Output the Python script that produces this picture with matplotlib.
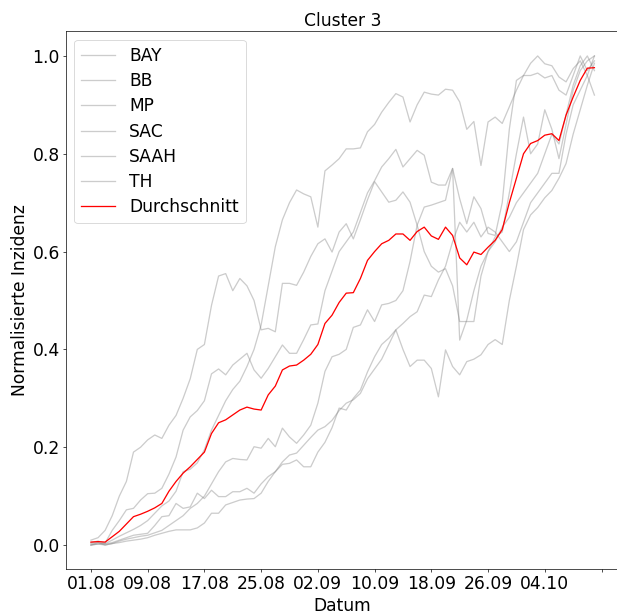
import matplotlib
matplotlib.use('Agg')
import matplotlib.pyplot as plt
import pandas as pd

# 72 daily values from 01.08 onward, each region min-max normalised
DATES = pd.date_range('2020-08-01', periods=72).strftime('%d.%m').tolist()

BAY = [0.01, 0.015, 0.03, 0.06, 0.10, 0.13, 0.19, 0.20, 0.215, 0.225,
       0.218, 0.245, 0.265, 0.30, 0.34, 0.40, 0.41, 0.49, 0.55, 0.555,
       0.52, 0.545, 0.53, 0.50, 0.44, 0.443, 0.436, 0.535, 0.535, 0.531,
       0.558, 0.59, 0.616, 0.626, 0.599, 0.64, 0.657, 0.626, 0.665, 0.706,
       0.743, 0.722, 0.701, 0.705, 0.722, 0.701, 0.654, 0.60, 0.57, 0.558,
       0.565, 0.53, 0.457, 0.457, 0.457, 0.55, 0.60, 0.63, 0.64, 0.72,
       0.80, 0.875, 0.80, 0.82, 0.89, 0.85, 0.79, 0.86, 0.93, 0.97,
       0.99, 1.0]
BB = [0.005, 0.008, 0.004, 0.03, 0.05, 0.072, 0.075, 0.092, 0.105, 0.106,
      0.116, 0.145, 0.18, 0.235, 0.262, 0.275, 0.295, 0.35, 0.36, 0.348,
      0.368, 0.38, 0.392, 0.358, 0.341, 0.361, 0.385, 0.409, 0.392, 0.392,
      0.42, 0.45, 0.452, 0.52, 0.56, 0.60, 0.62, 0.64, 0.68, 0.72,
      0.745, 0.773, 0.79, 0.809, 0.773, 0.79, 0.807, 0.797, 0.742, 0.736,
      0.736, 0.77, 0.708, 0.657, 0.712, 0.688, 0.637, 0.633, 0.70, 0.85,
      0.95, 0.96, 0.96, 0.965, 0.955, 0.96, 0.93, 0.92, 0.96, 1.0,
      0.97, 0.99]
MP = [0.0, 0.002, 0.003, 0.01, 0.018, 0.025, 0.032, 0.04, 0.05, 0.065,
      0.08, 0.09, 0.11, 0.15, 0.155, 0.168, 0.195, 0.235, 0.265, 0.295,
      0.318, 0.335, 0.365, 0.40, 0.45, 0.53, 0.61, 0.665, 0.70, 0.726,
      0.718, 0.712, 0.65, 0.765, 0.777, 0.79, 0.81, 0.81, 0.812, 0.845,
      0.86, 0.885, 0.905, 0.923, 0.916, 0.865, 0.90, 0.926, 0.922, 0.92,
      0.932, 0.93, 0.906, 0.85, 0.866, 0.776, 0.865, 0.875, 0.862, 0.896,
      0.93, 0.96, 0.985, 1.0, 0.984, 0.98, 0.957, 0.947, 0.974, 0.99,
      0.96, 0.92]
SAC = [0.0, 0.005, 0.0, 0.003, 0.008, 0.012, 0.015, 0.018, 0.02, 0.025,
       0.03, 0.04, 0.05, 0.06, 0.075, 0.085, 0.10, 0.125, 0.15, 0.17,
       0.177, 0.175, 0.174, 0.201, 0.198, 0.218, 0.201, 0.239, 0.221, 0.208,
       0.225, 0.245, 0.29, 0.355, 0.385, 0.39, 0.40, 0.445, 0.45, 0.481,
       0.457, 0.491, 0.494, 0.50, 0.52, 0.58, 0.654, 0.691, 0.695, 0.70,
       0.705, 0.77, 0.419, 0.46, 0.52, 0.57, 0.60, 0.62, 0.65, 0.67,
       0.70, 0.72, 0.74, 0.76, 0.80, 0.84, 0.82, 0.88, 0.94, 0.98,
       1.0, 0.97]
SAAH = [0.003, 0.005, 0.002, 0.005, 0.01, 0.015, 0.02, 0.022, 0.024, 0.04,
        0.058, 0.06, 0.085, 0.075, 0.078, 0.106, 0.095, 0.112, 0.099, 0.099,
        0.109, 0.109, 0.116, 0.106, 0.125, 0.14, 0.15, 0.165, 0.167, 0.174,
        0.16, 0.16, 0.19, 0.21, 0.24, 0.28, 0.276, 0.30, 0.317, 0.354,
        0.385, 0.41, 0.423, 0.44, 0.40, 0.365, 0.378, 0.378, 0.361, 0.303,
        0.399, 0.365, 0.348, 0.375, 0.38, 0.389, 0.41, 0.42, 0.41, 0.50,
        0.57, 0.645, 0.675, 0.69, 0.71, 0.725, 0.75, 0.78, 0.84, 0.89,
        0.94, 0.985]
TH = [0.0, 0.002, 0.0, 0.003, 0.005, 0.008, 0.01, 0.012, 0.015, 0.02,
      0.024, 0.028, 0.031, 0.031, 0.031, 0.035, 0.045, 0.065, 0.065, 0.082,
      0.087, 0.092, 0.094, 0.095, 0.106, 0.13, 0.15, 0.17, 0.184, 0.188,
      0.204, 0.22, 0.235, 0.242, 0.255, 0.275, 0.29, 0.297, 0.31, 0.34,
      0.36, 0.38, 0.41, 0.44, 0.453, 0.467, 0.477, 0.511, 0.508, 0.542,
      0.57, 0.62, 0.66, 0.64, 0.66, 0.63, 0.65, 0.64, 0.62, 0.60,
      0.62, 0.66, 0.70, 0.72, 0.74, 0.76, 0.76, 0.84, 0.90, 0.93,
      0.96, 1.0]
MEAN = [0.006, 0.007, 0.006, 0.017, 0.028, 0.043, 0.058, 0.063, 0.069, 0.076,
        0.085, 0.11, 0.13, 0.147, 0.16, 0.175, 0.19, 0.228, 0.25, 0.256,
        0.266, 0.276, 0.282, 0.278, 0.276, 0.307, 0.325, 0.358, 0.366, 0.368,
        0.378, 0.39, 0.41, 0.453, 0.47, 0.496, 0.515, 0.516, 0.545, 0.582,
        0.60, 0.616, 0.623, 0.636, 0.636, 0.623, 0.641, 0.65, 0.632, 0.625,
        0.65, 0.633, 0.587, 0.573, 0.599, 0.594, 0.609, 0.623, 0.645, 0.70,
        0.75, 0.80, 0.821, 0.827, 0.838, 0.841, 0.827, 0.879, 0.916, 0.95,
        0.975, 0.976]

REGIONS = ['BAY', 'BB', 'MP', 'SAC', 'SAAH', 'TH']
SERIES = [BAY, BB, MP, SAC, SAAH, TH]
TICK_STEP = 8

plt.rcParams['font.size'] = 20

fig = plt.figure(figsize=(10.0, 614 / 61.7), dpi=61.7)
# the right spine sits just past the image edge in the reference
ax = fig.add_axes([0.1066, 0.0725, 0.8976, 0.8762])

x = list(range(len(DATES)))
for name, vals in zip(REGIONS, SERIES):
    ax.plot(x, vals, color='grey', alpha=0.4, label=name)
ax.plot(x, MEAN, color='red', label='Durchschnitt')

ticks = list(range(0, len(DATES) + 1, TICK_STEP))
ax.set_xticks(ticks)
ax.set_xticklabels([DATES[t] if t < len(DATES) else '' for t in ticks])

ax.set_title('Cluster 3', fontsize=20)
ax.set_xlabel('Datum')
ax.set_ylabel('Normalisierte Inzidenz')
ax.legend(loc='upper left', labelspacing=0.42)

fig.savefig('out.png', dpi=61.7)
